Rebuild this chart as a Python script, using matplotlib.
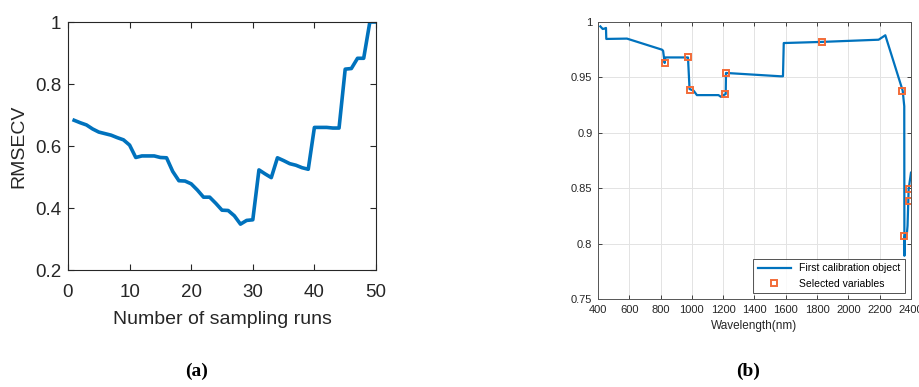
import matplotlib
matplotlib.use('Agg')
import matplotlib.pyplot as plt
from matplotlib.ticker import FuncFormatter

plt.rcParams['font.family'] = ['Liberation Sans', 'DejaVu Sans']

# (a) RMSECV vs. number of sampling runs
runs = list(range(1, 51))
rmsecv = [0.683, 0.675, 0.668, 0.655, 0.645, 0.640, 0.635, 0.627, 0.620, 0.603,
          0.563, 0.568, 0.568, 0.568, 0.563, 0.562, 0.518, 0.488, 0.487, 0.478,
          0.458, 0.435, 0.435, 0.415, 0.393, 0.392, 0.375, 0.348, 0.360, 0.362,
          0.523, 0.510, 0.498, 0.562, 0.553, 0.543, 0.538, 0.530, 0.525, 0.660,
          0.660, 0.660, 0.658, 0.658, 0.848, 0.850, 0.883, 0.883, 1.000, 1.000]

# (b) first calibration object over wavelength
wl = [415, 430, 440, 451, 453, 585, 809, 816, 826, 830, 975, 985, 1011, 1032,
      1170, 1185, 1203, 1216, 1218, 1565, 1582, 1587, 1827, 2193, 2236, 2347,
      2357, 2358, 2361, 2374, 2378, 2385, 2400]
calib = [0.996, 0.9937, 0.994, 0.9946, 0.9847, 0.985, 0.975, 0.974, 0.963, 0.968,
         0.968, 0.9395, 0.938, 0.934, 0.934, 0.9325, 0.934, 0.935, 0.954, 0.951,
         0.951, 0.981, 0.982, 0.984, 0.988, 0.938, 0.924, 0.789, 0.807, 0.8095,
         0.816, 0.849, 0.864]
sel_wl = [826, 977, 986, 1214, 1220, 1829, 2345, 2357, 2385, 2387]
sel_val = [0.963, 0.968, 0.939, 0.935, 0.954, 0.982, 0.938, 0.807, 0.838, 0.849]

blue = '#0072BD'
orange = '#F26B38'
dark = '#262626'
tick_fmt = FuncFormatter(lambda v, p: '%g' % round(v, 2))

fig = plt.figure(figsize=(9.2, 3.87), dpi=100)

ax1 = fig.add_axes([0.0739, 0.3023, 0.3348, 0.6408])
ax1.plot(runs, rmsecv, color=blue, lw=2.6, solid_joinstyle='round')
ax1.set_xlim(0, 50)
ax1.set_ylim(0.2, 1.0)
ax1.set_xticks([0, 10, 20, 30, 40, 50])
ax1.set_yticks([0.2, 0.4, 0.6, 0.8, 1.0])
ax1.yaxis.set_major_formatter(tick_fmt)
ax1.tick_params(direction='in', top=True, right=True, labelsize=13.5,
                colors=dark, length=4, width=0.8, pad=6)
ax1.tick_params(axis='x', pad=10)
ax1.tick_params(axis='y', pad=5)
for s in ax1.spines.values():
    s.set_color(dark)
    s.set_linewidth(0.8)
ax1.set_xlabel('Number of sampling runs', fontsize=14, color=dark, labelpad=7)
ax1.set_ylabel('RMSECV', fontsize=14, color=dark, labelpad=5)

ax2 = fig.add_axes([0.65, 0.2274, 0.3402, 0.7158])
ax2.plot(wl, calib, color=blue, lw=1.6, label='First calibration object')
ax2.plot(sel_wl, sel_val, ls='none', marker='s', ms=5, mfc='none',
         mec=orange, mew=1.4, label='Selected variables')
ax2.set_xlim(400, 2400)
ax2.set_ylim(0.75, 1.0)
ax2.set_xticks(range(400, 2401, 200))
ax2.set_yticks([0.75, 0.8, 0.85, 0.9, 0.95, 1.0])
ax2.yaxis.set_major_formatter(tick_fmt)
ax2.grid(True, color='#E3E3E3', lw=0.7)
ax2.set_axisbelow(True)
ax2.tick_params(direction='in', top=True, right=True, labelsize=8,
                colors=dark, length=3, width=0.6, pad=4)
for s in ax2.spines.values():
    s.set_color('#555555')
    s.set_linewidth(0.7)
ax2.set_xlabel('Wavelength(nm)', fontsize=8.5, color=dark, labelpad=4)
leg = ax2.legend(loc='lower right', fontsize=7.5, frameon=True, fancybox=False,
                 borderaxespad=0.6, handlelength=3.2, borderpad=0.4,
                 labelspacing=0.5)
leg.get_frame().set_edgecolor(dark)
leg.get_frame().set_linewidth(0.7)

fig.text(0.214, 0.04, '(a)', fontsize=14, fontweight='bold',
         family='Liberation Serif', ha='center', va='center')
fig.text(0.813, 0.04, '(b)', fontsize=14, fontweight='bold',
         family='Liberation Serif', ha='center', va='center')

fig.savefig('out.png', dpi=100)
